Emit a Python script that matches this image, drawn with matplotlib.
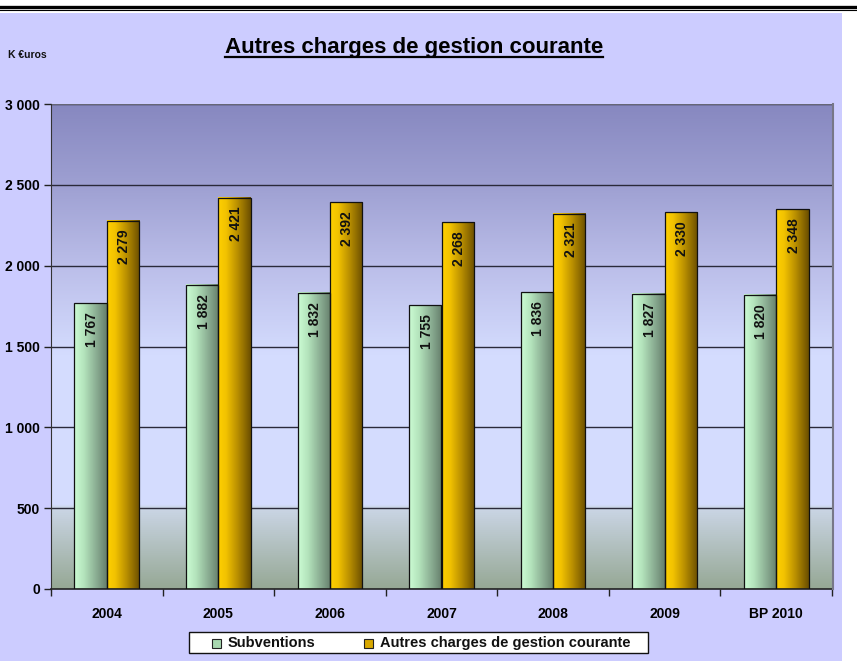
import numpy as np
import matplotlib
matplotlib.use("Agg")
import matplotlib.pyplot as plt
from matplotlib.colors import LinearSegmentedColormap
from matplotlib.patches import Rectangle
from matplotlib.lines import Line2D

categories = ["2004", "2005", "2006", "2007", "2008", "2009", "BP 2010"]
subventions = [1767, 1882, 1832, 1755, 1836, 1827, 1820]
autres = [2279, 2421, 2392, 2268, 2321, 2330, 2348]
series_names = ["Subventions", "Autres charges de gestion courante"]
yticks = [0, 500, 1000, 1500, 2000, 2500, 3000]
title = "Autres charges de gestion courante"
unit_label = "K €uros"

plt.rcParams['font.family'] = ['Liberation Sans', 'DejaVu Sans']

def fmt(v):
    return f"{v:,}".replace(",", " ")

W, H = 857, 661
fig = plt.figure(figsize=(W / 100, H / 100), dpi=100)
fig.patch.set_facecolor("white")

def fx(px):
    return px / W

def fy(py):
    return 1 - py / H

# lavender background panel
fig.add_artist(Rectangle((0, 0), fx(842), (H - 13) / H, transform=fig.transFigure,
                         facecolor="#CCCCFF", edgecolor="none", zorder=-10))
# top double rule
fig.add_artist(Line2D([0, 1], [fy(6.5)] * 2, transform=fig.transFigure, color="black", lw=2.4))
fig.add_artist(Line2D([0, 1], [fy(9.5)] * 2, transform=fig.transFigure, color="black", lw=0.8))

left, right, top, bottom = 51, 832, 104, 589
ax = fig.add_axes([fx(left), fy(bottom), (right - left) / W, (bottom - top) / H])
ax.set_facecolor("none")

n = len(categories)
x = np.arange(n)

# background vertical gradient
stops = [(0.0, "#96A895"), (500 / 3000, "#CBD6E6"), (520 / 3000, "#D5DDFF"),
         (1450 / 3000, "#D4DCFE"), (2000 / 3000, "#BBBEE9"), (2500 / 3000, "#9EA0D2"),
         (1.0, "#8788C0")]
bg_cmap = LinearSegmentedColormap.from_list("bg", stops)
grad = np.linspace(0, 1, 512).reshape(-1, 1)
ax.imshow(grad, cmap=bg_cmap, origin="lower", aspect="auto",
          extent=(-0.5, n - 0.5, 0, 3000), zorder=0, interpolation="bilinear")

for yv in yticks[1:]:
    ax.axhline(yv, color="#2a2a3a", lw=1.0, zorder=1)
ax.axhline(3000, color="#666677", lw=1.6, zorder=1)

green_cmap = LinearSegmentedColormap.from_list(
    "g", [(0, "#CCFCD4"), (0.3, "#B4E4BC"), (0.7, "#88AA90"), (1, "#667F6C")])
gold_cmap = LinearSegmentedColormap.from_list(
    "o", [(0, "#FFD000"), (0.25, "#F2C200"), (0.6, "#B88E00"), (1, "#6A4E00")])
hgrad = np.linspace(0, 1, 256).reshape(1, -1)

bw = 0.29
for vals, cmap, off in [(subventions, green_cmap, -bw / 2), (autres, gold_cmap, bw / 2)]:
    bars = ax.bar(x + off, vals, width=bw, facecolor="none", edgecolor="#111111", lw=0.9, zorder=3)
    for b, v in zip(bars, vals):
        x0 = b.get_x()
        ax.imshow(hgrad, cmap=cmap, aspect="auto", extent=(x0, x0 + bw, 0, v),
                  zorder=2, interpolation="bilinear")
        ax.annotate(fmt(v), (b.get_x() + bw / 2, v), xytext=(1, -6.5),
                    textcoords="offset points", rotation=90, ha="center", va="top",
                    fontsize=10, fontweight="bold", color="#111111", zorder=4)

ax.set_xlim(-0.5, n - 0.5)
ax.set_ylim(0, 3000)

ax.set_yticks(yticks)
ax.set_yticklabels([fmt(v) for v in yticks], fontsize=10, fontweight="bold")
ax.set_xticks(x)
ax.set_xticklabels(categories, fontsize=10, fontweight="bold")
ax.tick_params(axis="x", length=0, pad=13)
ax.set_xticks(np.arange(-0.5, n, 1), minor=True)
ax.tick_params(axis="x", which="minor", length=5, width=1, direction="out", color="#222222")
ax.tick_params(axis="y", length=5, width=1, direction="out", color="#222222", pad=3)

for s in ["top", "right"]:
    ax.spines[s].set_visible(False)
ax.spines["left"].set_color("#333333")
ax.spines["bottom"].set_color("#222222")
ax.spines["bottom"].set_linewidth(1.2)
# right shadow edge
fig.add_artist(Line2D([fx(right + 1)] * 2, [fy(bottom), fy(top)],
                      transform=fig.transFigure, color="#777788", lw=1.5))

# title
t = fig.text(fx(414), fy(47), title, ha="center", va="center",
             fontsize=16, fontweight="bold", color="black")
fig.text(fx(8), fy(55), unit_label, ha="left", va="center",
         fontsize=7.5, fontweight="bold", color="#111111")

fig.canvas.draw()
bb = t.get_window_extent(fig.canvas.get_renderer())
fig.add_artist(Line2D([bb.x0 / W, bb.x1 / W], [fy(57)] * 2, transform=fig.transFigure,
                      color="black", lw=1.6))

# legend drawn manually
fig.add_artist(Rectangle((fx(189), fy(653)), (648 - 189) / W, 21 / H, transform=fig.transFigure,
                         facecolor="white", edgecolor="#111111", lw=1.0, zorder=5))
leg_items = [(212, 228, "#A8D8B0"), (364, 380, "#D8A800")]
for (hx, tx, col), name in zip(leg_items, series_names):
    fig.add_artist(Rectangle((fx(hx), fy(647.5)), 9 / W, 9 / H, transform=fig.transFigure,
                             facecolor=col, edgecolor="#222222", lw=0.8, zorder=6))
    fig.text(fx(tx), fy(643), name, ha="left", va="center", fontsize=10.5,
             fontweight="bold", color="#111111", zorder=7)

fig.savefig("out.png", dpi=100)
